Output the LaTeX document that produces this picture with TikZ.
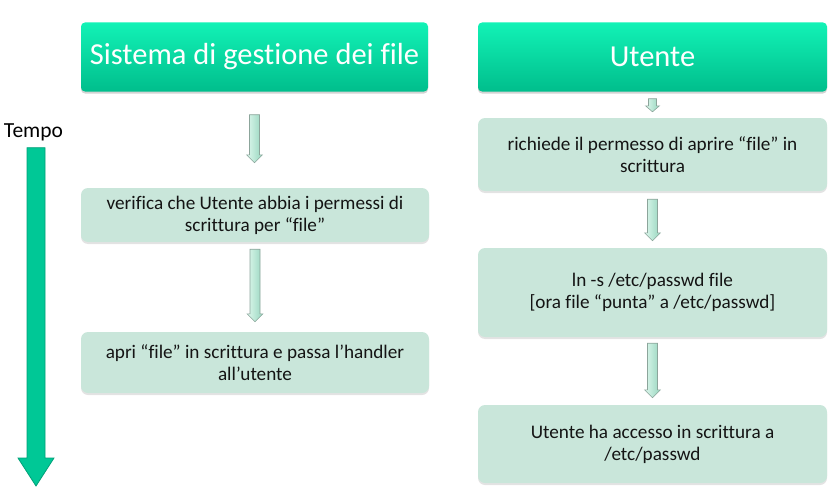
\documentclass[tikz,border=0pt]{standalone}
\usepackage{fontspec}
\setmainfont[Ligatures=NoCommon]{Carlito}
\usetikzlibrary{calc,shadows}
\definecolor{hdtop}{RGB}{18,242,182}
\definecolor{hdbot}{RGB}{0,190,140}
\definecolor{boxfill}{RGB}{201,230,218}
\definecolor{textc}{RGB}{20,20,20}
\definecolor{tfill}{RGB}{0,200,150}
\definecolor{tdraw}{RGB}{0,160,120}
\definecolor{alight}{RGB}{222,247,237}
\definecolor{adark}{RGB}{150,214,190}
\definecolor{aedge}{RGB}{140,165,155}
\newcommand{\blockarr}[6][]{%
  \shade[#1] let \p1=#2, \p2=#3 in
    (\x1-#4,\y1) -- (\x1+#4,\y1) -- (\x1+#4,\y2+#6) -- (\x1+#5,\y2+#6)
    -- (\x1,\y2) -- (\x1-#5,\y2+#6) -- (\x1-#4,\y2+#6) -- cycle;}
\begin{document}
\begin{tikzpicture}[x=1pt,y=1pt,
  header/.style={rectangle, rounded corners=4pt, top color=hdtop, bottom color=hdbot,
    text=white, font=\fontsize{30.5}{36}\selectfont, inner sep=0pt,
    drop shadow={opacity=0.35, shadow xshift=0pt, shadow yshift=-2pt}},
  stepbox/.style={rectangle, rounded corners=7pt, fill=boxfill, text=textc,
    font=\fontsize{19.2}{22}\selectfont, align=center, inner sep=0pt,
    drop shadow={opacity=0.22, shadow xshift=0pt, shadow yshift=-2pt}},
  smallarrow/.style={left color=alight, right color=adark, draw=aedge, line width=0.6pt},
  timearrow/.style={fill=tfill, draw=tdraw, line width=0.8pt}
]
\useasboundingbox (0,0) rectangle (838,-495);

% headers
\node[header, minimum width=347pt, minimum height=69pt] (hl) at (254.5,-57) {Sistema di gestione dei file};
\node[header, minimum width=349pt, minimum height=69pt] (hr) at (652.5,-57) {Utente};

% left column boxes
\node[stepbox, minimum width=348pt, minimum height=54pt] (l1) at (255,-215)
  {verifica che Utente abbia i permessi di\\scrittura per “file”};
\node[stepbox, minimum width=348pt, minimum height=61pt] (l2) at (255,-362.5)
  {apri “file” in scrittura e passa l’handler\\all’utente};

% right column boxes
\node[stepbox, minimum width=349pt, minimum height=73pt] (r1) at (652.5,-154.5)
  {richiede il permesso di aprire “file” in\\scrittura};
\node[stepbox, minimum width=349pt, minimum height=89pt] (r2) at (652.5,-292.5)
  {ln -s /etc/passwd file\\{[ora file “punta” a /etc/passwd]}};
\node[stepbox, minimum width=349pt, minimum height=78pt] (r3) at (652.5,-444)
  {Utente ha accesso in scrittura a\\/etc/passwd};

% time axis
\node[anchor=base, font=\fontsize{21.5}{25}\selectfont, text=black, inner sep=0pt] (tempo) at (33.5,-137) {Tempo};
\coordinate (tend) at (36,-486);

% small block arrows
\blockarr[smallarrow]{($(hl.south)+(0,-23)$)}{($(l1.north)+(0,25)$)}{5pt}{8pt}{8pt}
\blockarr[smallarrow]{($(l1.south)+(0,-7)$)}{($(l2.north)+(0,10)$)}{5pt}{8pt}{8pt}
\blockarr[smallarrow]{($(hr.south)+(0,-7)$)}{($(r1.north)+(0,6)$)}{4pt}{7pt}{6pt}
\blockarr[smallarrow]{($(r1.south)+(0,-8)$)}{($(r2.north)+(0,7)$)}{5pt}{8pt}{8pt}
\blockarr[smallarrow]{($(r2.south)+(0,-6)$)}{($(r3.north)+(0,7)$)}{5pt}{8pt}{8pt}

% time arrow
\draw[timearrow] let \p1=($(tempo.south)+(0,-7)$), \p2=(tend) in
  (\x2-9pt,\y1) -- (\x2+9pt,\y1) -- (\x2+9pt,\y2+28pt) -- (\x2+18pt,\y2+28pt)
  -- (\x2,\y2) -- (\x2-18pt,\y2+28pt) -- (\x2-9pt,\y2+28pt) -- cycle;
\end{tikzpicture}
\end{document}
